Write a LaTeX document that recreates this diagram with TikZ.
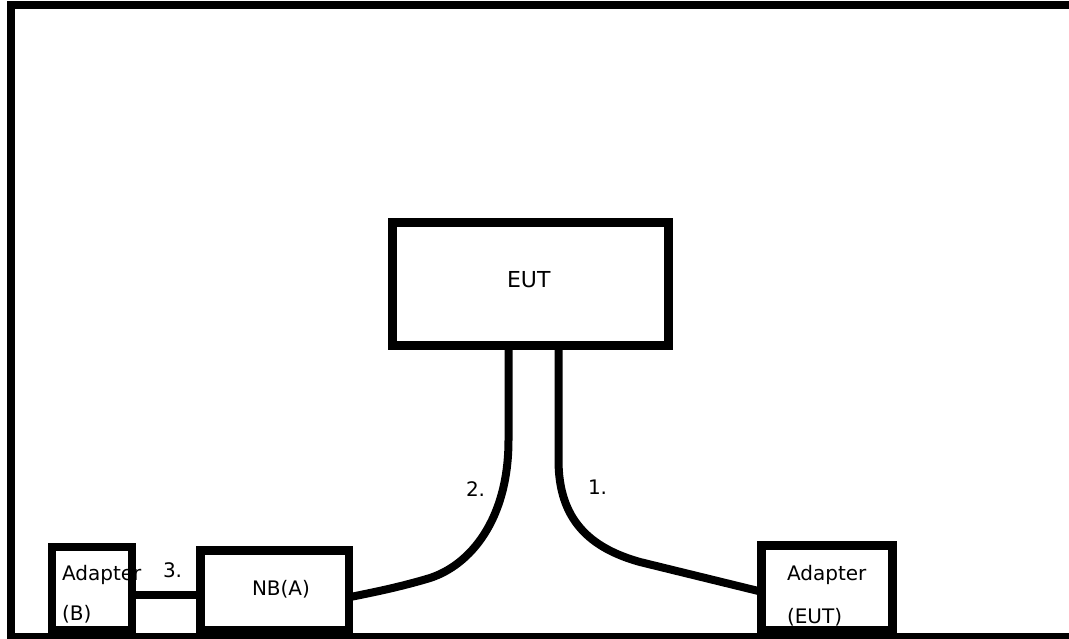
\documentclass[tikz,border=0pt]{standalone}
\usepackage{fontspec}
\setmainfont{DejaVu Sans}
\begin{document}
\begin{tikzpicture}[x=1pt,y=-1pt,
  box/.style={draw,line width=8.5pt,rectangle,inner sep=0pt,outer sep=0pt},
  cable/.style={line width=8pt},
  txt/.style={inner sep=0pt,outer sep=0pt,anchor=base west,font=\fontsize{20}{24}\selectfont}]
  % page area
  \useasboundingbox (0,0) rectangle (1069,638);
  \clip (0,0) rectangle (1069,638);

  % room outline
  \draw[line width=8pt] (1090,5) -- (11,5) -- (11,637) -- (1090,637);

  % equipment
  \node[box,line width=9pt,minimum width=276pt,minimum height=123pt] (eut) at (530,283.5) {};
  \node[box,minimum width=80pt,minimum height=83pt] (adb) at (92,588.5) {};
  \node[box,minimum width=148.5pt,minimum height=79.5pt] (nb) at (274.75,590.25) {};
  \node[box,minimum width=131pt,minimum height=84.5pt] (ade) at (827,587.75) {};

  % labels
  \node[txt,font=\fontsize{22}{26}\selectfont] (eutlbl) at (507,287) {EUT};
  \node[txt] (nblbl) at (252,595) {NB(A)};
  \node[txt] (adbl1) at (62,580) {Adapter};
  \node[txt] (adbl2) at (62,620) {(B)};
  \node[txt] (adel1) at (787,580) {Adapter};
  \node[txt] (adel2) at (787,623) {(EUT)};

  % cables
  \draw[cable] ([xshift=-21.5pt]eut.south) -- ++(0,95)
    .. controls (508.5,520) and (470,565) .. (430,578)
    .. controls (400,587) and (375,592) .. ([yshift=-7pt]nb.east);
  \draw[cable] ([xshift=28.5pt]eut.south) -- ++(0,115)
    .. controls (558.5,520) and (590,548) .. (640,562)
    -- ([yshift=-4pt]ade.west);
  \draw[cable] ([yshift=-6.5pt]adb.east) -- ([yshift=-4.75pt]nb.west);

  % cable numbers
  \node[txt] (n1) at (588,494) {1.};
  \node[txt] (n2) at (466,496) {2.};
  \node[txt] (n3) at (163,577) {3.};
\end{tikzpicture}
\end{document}
